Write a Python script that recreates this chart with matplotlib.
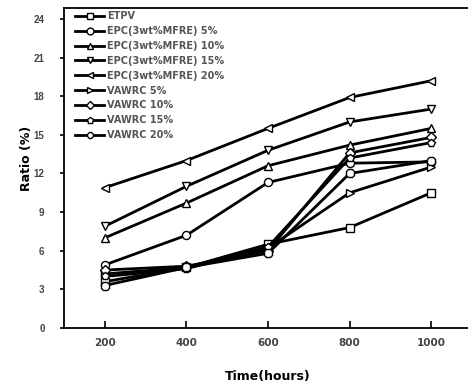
import matplotlib
matplotlib.use('Agg')
from matplotlib import pyplot as plt

# aging time (hours) and ratio (%) for each sample
hours = [200, 400, 600, 800, 1000]

etpv = [3.6, 4.7, 6.5, 7.8, 10.5]
epc_5 = [4.9, 7.2, 11.3, 12.8, 12.9]
epc_10 = [7.0, 9.7, 12.6, 14.2, 15.5]
epc_15 = [7.9, 11.0, 13.8, 16.0, 17.0]
epc_20 = [10.9, 13.0, 15.5, 17.9, 19.2]
vawrc_5 = [4.2, 4.7, 6.2, 10.5, 12.5]
vawrc_10 = [4.5, 4.8, 6.0, 13.6, 14.8]
vawrc_15 = [4.0, 4.6, 6.3, 13.2, 14.4]
vawrc_20 = [3.3, 4.7, 5.8, 12.0, 13.0]

labels = ['ETPV', 'EPC(3wt%MFRE) 5%', 'EPC(3wt%MFRE) 10%', 'EPC(3wt%MFRE) 15%',
          'EPC(3wt%MFRE) 20%', 'VAWRC 5%', 'VAWRC 10%', 'VAWRC 15%', 'VAWRC 20%']
series = [etpv, epc_5, epc_10, epc_15, epc_20, vawrc_5, vawrc_10, vawrc_15, vawrc_20]
markers = ['s', 'o', '^', 'v', '<', '>', 'D', 'p', '8']

plt.rcParams['font.family'] = 'DejaVu Sans'

fig = plt.figure(figsize=(4.68, 3.85), dpi=100)
ax = fig.add_axes([64 / 468, 57 / 385, 408 / 468, 320 / 385])

for values, label, marker in zip(series, labels, markers):
    ms = 4.8 if marker == 'D' else 5.8
    ax.plot(hours, values, color='black', linewidth=2.0, marker=marker,
            markersize=ms, markerfacecolor='white', markeredgecolor='black',
            markeredgewidth=1.0, label=label)

ax.set_xlim(100, 1100)
ax.set_ylim(0, 24.85)
ax.set_xticks(hours)
ax.set_yticks(range(0, 25, 3))

for side in ['left', 'bottom', 'top']:
    ax.spines[side].set_linewidth(1.3)
ax.spines['right'].set_visible(False)

ax.tick_params(axis='x', direction='in', length=5, width=1.2, pad=7,
               labelsize=7.5)
ax.tick_params(axis='y', direction='out', length=3, width=1.2, pad=11,
               labelsize=7)
for lbl in ax.get_xticklabels() + ax.get_yticklabels():
    lbl.set_fontweight('bold')
    lbl.set_color('#444444')
for lbl in ax.get_yticklabels():
    lbl.set_family('Liberation Sans')

ax.set_xlabel('Time(hours)', fontsize=9, fontweight='bold')
ax.xaxis.set_label_coords(0.5, -0.13)
ax.set_ylabel('Ratio (%)', fontsize=9, fontweight='bold')
ax.yaxis.set_label_coords(-0.075, 0.53)

leg = ax.legend(loc='upper left', bbox_to_anchor=(0.027, 0.99), frameon=False,
                fontsize=7, handlelength=3.0, handletextpad=0.3,
                labelspacing=0.5, borderpad=0, borderaxespad=0,
                markerscale=0.85)
for txt in leg.get_texts():
    txt.set_fontweight('bold')
    txt.set_color('#555555')

fig.savefig('out.png', dpi=100)
